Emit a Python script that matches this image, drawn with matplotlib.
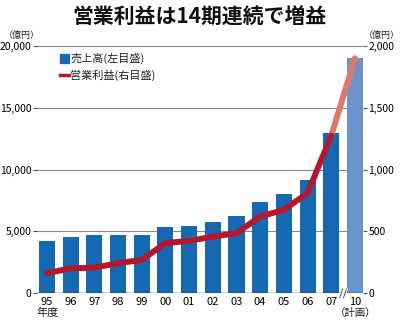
import matplotlib
matplotlib.use('Agg')
import matplotlib.pyplot as plt
import numpy as np

plt.rcParams['font.family'] = ['Noto Sans CJK JP', 'DejaVu Sans']

years = ['95', '96', '97', '98', '99', '00', '01', '02', '03', '04', '05', '06', '07', '10']
sales = [4260, 4580, 4700, 4700, 4700, 5340, 5450, 5750, 6260, 7340, 8020, 9170, 12960, 19030]
profit = [162, 202, 207, 243, 270, 405, 424, 458, 486, 620, 675, 810, 1274, 1900]
left_ticks = [0, 5000, 10000, 15000, 20000]
right_ticks = [0, 500, 1000, 1500, 2000]

blue = '#1569b3'
blue_plan = '#6a94cc'
red = '#b3182d'
salmon = '#e0786a'

fig = plt.figure(figsize=(4.0, 3.23), dpi=100)
ax = fig.add_axes([0.0925, 0.092, 0.815, 0.766])
ax2 = ax.twinx()

x = np.arange(len(years))
colors = [blue] * (len(years) - 1) + [blue_plan]
ax.bar(x, sales, width=0.68, color=colors, zorder=2)

ax.set_ylim(0, 20000)
ax2.set_ylim(0, 2000)
ax.set_xlim(-0.42, 13.34)

for v in left_ticks[1:]:
    ax.axhline(v, color='#888888', lw=0.8, zorder=1)

ax.set_yticks(left_ticks)
ax.set_yticklabels([f'{v:,}' for v in left_ticks])
ax2.set_yticks(right_ticks)
ax2.set_yticklabels([f'{v:,}' for v in right_ticks])
for a in (ax, ax2):
    for s in a.spines.values():
        s.set_visible(False)
    a.tick_params(axis='y', length=3, width=0.8, color='#555555', labelsize=7.5, pad=1)
ax.tick_params(axis='x', length=0, labelsize=8, pad=3)
ax.set_xticks(x)
ax.set_xticklabels(years)
ax.axhline(0, color='#222222', lw=1.0, zorder=3)

# profit line (actual + plan)
ax2.plot(x[:-1], profit[:-1], color=red, lw=4.3, solid_capstyle='round', zorder=4)
ax2.plot(x[-2:], profit[-2:], color=salmon, lw=4.3, solid_capstyle='round', zorder=3)
ax2.set_zorder(ax.get_zorder() + 1)
ax.patch.set_visible(False)

# axis break
bx = 12.5
ax.plot([bx - 0.06, bx + 0.06], [-250, 250], color='white', lw=4, clip_on=False, zorder=5)
for d in (-0.08, 0.08):
    ax.plot([bx + d - 0.06, bx + d + 0.06], [-350, 350], color='#555555', lw=0.7,
            clip_on=False, zorder=6)

# legend
ax.add_patch(plt.Rectangle((0.07, 0.932), 0.027, 0.036, transform=ax.transAxes,
                           color=blue, clip_on=False))
ax.text(0.102, 0.95, '売上高(左目盛)', transform=ax.transAxes, fontsize=8,
        va='center', ha='left', color='#222222')
ax.plot([0.07, 0.097], [0.883, 0.883], transform=ax.transAxes, color=red, lw=2.5)
ax.text(0.102, 0.883, '営業利益(右目盛)', transform=ax.transAxes, fontsize=8,
        va='center', ha='left', color='#222222')

fig.text(0.01, 0.89, '（億円）', fontsize=6.5, ha='left', va='center', color='#222222')
fig.text(0.91, 0.89, '（億円）', fontsize=6.5, ha='left', va='center', color='#222222')
fig.text(0.118, 0.03, '年度', fontsize=8, ha='center', va='center', color='#222222')
fig.text(0.89, 0.03, '（計画）', fontsize=7.5, ha='center', va='center', color='#222222')

fig.text(0.5, 0.945, '営業利益は14期連続で増益', fontsize=15, fontweight='bold',
         ha='center', va='center', color='#111111')

fig.savefig('out.png', dpi=100)
